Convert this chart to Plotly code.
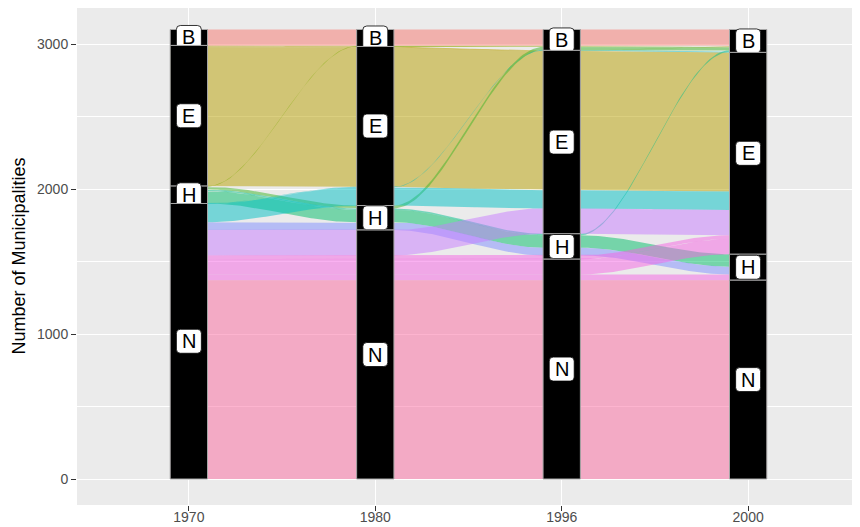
import plotly.graph_objects as go
import numpy as np

years = ["1970", "1980", "1996", "2000"]
levels = ["B", "E", "H", "N"]

# each alluvium: stratum at 1970, 1980, 1996, 2000
paths = ["BBBB", "EBBB", "EEBB", "EEEB", "EEEE", "HBBB", "HHBB", "HHHB", "HHHH",
         "NEBB", "NEEE", "NHHH", "NNEE", "NNHE", "NNNE", "NNNH", "NNNN"]
counts = [110, 3, 3, 4, 960, 4, 20, 10, 86, 4, 126, 53, 175, 26, 105, 40, 1371]
fills = ["#F8766D", "#DE8C00", "#B79F00", "#B79F00", "#B79F00", "#7CAE00", "#3DB528", "#00C08B",
         "#00BE67", "#00BFC4", "#00BFC4", "#7F8EFF", "#C77CFF", "#F564E3", "#F564E3",
         "#F564E3", "#FB6AA0"]

y_ticks = [0, 1000, 2000, 3000]
y_minor = [500, 1500, 2500]

W = 0.2          # stratum width (axis units)
ALPHA = 0.5
n_ax = len(years)
xs = np.arange(1, n_ax + 1)
total = sum(counts)

def lvl(c):
    return levels.index(c)

# lode positions (top, bottom) for each alluvium on each axis
tops = np.zeros((len(paths), n_ax))
bots = np.zeros((len(paths), n_ax))
for j in range(n_ax):
    order = sorted(range(len(paths)),
                   key=lambda i: (lvl(paths[i][j]), [lvl(c) for c in paths[i]]))
    cur = total
    for i in order:
        tops[i, j] = cur
        cur -= counts[i]
        bots[i, j] = cur

def edge(vals):
    ex, ey = [], []
    for j in range(n_ax):
        ex += [xs[j] - W / 2, xs[j] + W / 2]
        ey += [vals[j], vals[j]]
        if j < n_ax - 1:
            x0, x1 = xs[j] + W / 2, xs[j + 1] - W / 2
            u = np.linspace(0, 1, 60)[1:-1]
            s = 3 * u ** 2 - 2 * u ** 3
            ex += list(x0 + (x1 - x0) * u)
            ey += list(vals[j] + (vals[j + 1] - vals[j]) * s)
    return ex, ey

def rgba(h, a):
    h = h.lstrip("#")
    r, g, b = int(h[0:2], 16), int(h[2:4], 16), int(h[4:6], 16)
    return f"rgba({r},{g},{b},{a})"

fig = go.Figure()
for i in range(len(paths)):
    tx, ty = edge(tops[i])
    bx, by = edge(bots[i])
    fig.add_trace(go.Scatter(
        x=tx + bx[::-1], y=ty + by[::-1], mode="lines", fill="toself",
        fillcolor=rgba(fills[i], ALPHA), line=dict(width=0),
        hoverinfo="skip", showlegend=False))

# layout geometry (pixels); the page body adds an 8px offset
L, R, T, B = 69, 0, 0, 22
WIDTH, HEIGHT = 852, 519
x_rng = [0.4, 4.6]
y_rng = [-179.3, 3248.3]
ppx = (WIDTH - L - R) / (x_rng[1] - x_rng[0])
ppy = (HEIGHT - T - B) / (y_rng[1] - y_rng[0])

shapes = []
annotations = []
for j in range(n_ax):
    cur = total
    for s in levels:
        size = sum(c for p, c in zip(paths, counts) if p[j] == s)
        if size <= 0:
            continue
        y1, y0 = cur, cur - size
        cur = y0
        shapes.append(dict(type="rect", x0=xs[j] - W / 2, x1=xs[j] + W / 2, y0=y0, y1=y1,
                           fillcolor="black", line=dict(color="#A6A6A6", width=1),
                           layer="above"))
        yc = (y0 + y1) / 2
        hw, hh, rr = 12.5 / ppx, 12.0 / ppy, 4.0
        rx, ry = rr / ppx, rr / ppy
        xa, xb = xs[j] - hw, xs[j] + hw
        ya, yb = yc - hh, yc + hh
        path = (f"M {xa + rx},{ya} L {xb - rx},{ya} Q {xb},{ya} {xb},{ya + ry} "
                f"L {xb},{yb - ry} Q {xb},{yb} {xb - rx},{yb} L {xa + rx},{yb} "
                f"Q {xa},{yb} {xa},{yb - ry} L {xa},{ya + ry} Q {xa},{ya} {xa + rx},{ya} Z")
        shapes.append(dict(type="path", path=path, fillcolor="white",
                           line=dict(color="black", width=0.8), layer="above"))
        annotations.append(dict(x=xs[j], y=yc, text=s, showarrow=False,
                                font=dict(family="Liberation Sans", size=20, color="black"),
                                xanchor="center", yanchor="middle", yshift=0))

annotations.append(dict(xref="paper", yref="paper", x=(10 - L) / (WIDTH - L - R), y=0.5,
                        text="Number of Municipalities", textangle=-90, showarrow=False,
                        font=dict(family="Liberation Sans", size=18, color="black"),
                        xanchor="center", yanchor="middle"))

fig.update_layout(
    width=WIDTH, height=HEIGHT,
    margin=dict(l=L, r=R, t=T, b=B, pad=0, autoexpand=False),
    paper_bgcolor="white", plot_bgcolor="#EBEBEB",
    shapes=shapes, annotations=annotations,
    font=dict(family="Liberation Sans"),
    xaxis=dict(range=x_rng, tickvals=list(xs), ticktext=years, ticks="outside",
               ticklen=5, tickwidth=1, tickcolor="#333333", showgrid=True,
               gridcolor="white", gridwidth=1.3, zeroline=False, showline=False,
               automargin=False, ticklabelstandoff=-6,
               tickfont=dict(size=14, color="#4D4D4D")),
    yaxis=dict(range=y_rng, tickvals=y_ticks, ticks="outside", ticklen=5, tickwidth=1,
               tickcolor="#333333", showgrid=True, gridcolor="white", gridwidth=1.3,
               zeroline=False, showline=False, automargin=False,
               tickfont=dict(size=14, color="#4D4D4D"),
               minor=dict(tickvals=y_minor, showgrid=True, gridcolor="white",
                          gridwidth=0.6, ticks="")),
)

fig.write_html("out.html")
